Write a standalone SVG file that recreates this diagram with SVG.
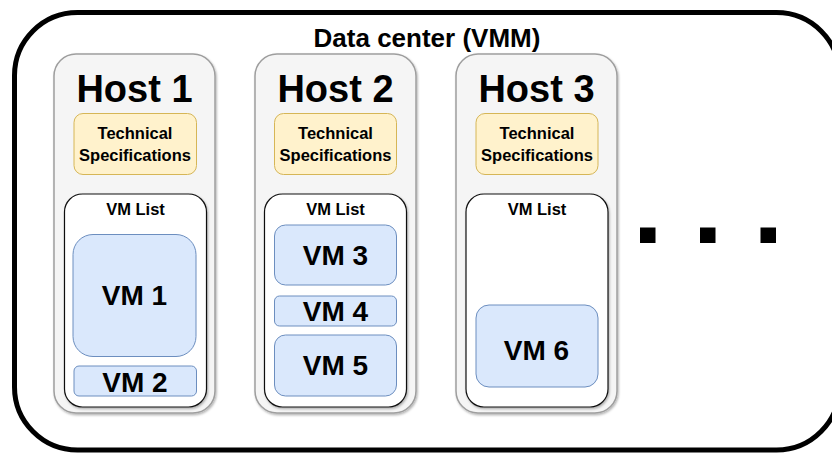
<svg xmlns="http://www.w3.org/2000/svg" width="832" height="454" viewBox="0 0 832 454">
  <defs>
    <filter id="soft" x="-10%" y="-10%" width="120%" height="120%">
      <feDropShadow dx="1" dy="1.5" stdDeviation="0.8" flood-color="#000" flood-opacity="0.3"/>
    </filter>
  </defs>
  <style>
    text { font-family: "Liberation Sans", Arial, sans-serif; font-weight: bold; fill: #000; text-anchor: middle; }
    .dc { fill: #fff; stroke: #000; stroke-width: 5; }
    .host { fill: #f5f5f5; stroke: #9e9e9e; stroke-width: 1.5; filter: url(#soft); }
    .spec { fill: #fff2cc; stroke: #d6b656; stroke-width: 1; }
    .list { fill: #fff; stroke: #111; stroke-width: 1.2; filter: url(#soft); }
    .vm { fill: #dae8fc; stroke: #6c8ebf; stroke-width: 1; }
    .title { font-size: 26px; }
    .hname { font-size: 38px; }
    .stext { font-size: 16.5px; }
    .ltext { font-size: 16.5px; }
    .vtext { font-size: 28px; }
  </style>

  <!-- data center frame -->
  <g id="datacenter">
    <rect class="dc" x="14.5" y="12.5" width="825" height="437.5" rx="63"/>
    <text class="title" x="427" y="46.5">Data center (VMM)</text>
  </g>

  <!-- host 1 -->
  <g id="host1">
    <rect class="host" x="54" y="54" width="161" height="359" rx="22"/>
    <text class="hname" x="134.5" y="101.5">Host 1</text>
    <rect class="spec" x="74" y="113.5" width="122.5" height="61" rx="9"/>
    <text class="stext" x="135" y="139">Technical</text>
    <text class="stext" x="135" y="160.5">Specifications</text>
    <rect class="list" x="64.5" y="194" width="142" height="213" rx="18"/>
    <text class="ltext" x="135.5" y="214.5">VM List</text>
  </g>
  <g id="vm1">
    <rect class="vm" x="73" y="234.5" width="123" height="122" rx="20"/>
    <text class="vtext" x="134.5" y="305">VM 1</text>
  </g>
  <g id="vm2">
    <rect class="vm" x="74" y="366" width="122.5" height="30" rx="5"/>
    <text class="vtext" x="135" y="391.5">VM 2</text>
  </g>

  <!-- host 2 -->
  <g id="host2">
    <rect class="host" x="255" y="54" width="161" height="359" rx="22"/>
    <text class="hname" x="335.5" y="101.5">Host 2</text>
    <rect class="spec" x="274.5" y="113.5" width="122" height="61" rx="9"/>
    <text class="stext" x="335.5" y="139">Technical</text>
    <text class="stext" x="335.5" y="160.5">Specifications</text>
    <rect class="list" x="264.5" y="194" width="142" height="213" rx="18"/>
    <text class="ltext" x="335.5" y="214.5">VM List</text>
  </g>
  <g id="vm3">
    <rect class="vm" x="274.5" y="225" width="122" height="60" rx="11"/>
    <text class="vtext" x="335.5" y="265">VM 3</text>
  </g>
  <g id="vm4">
    <rect class="vm" x="274.5" y="296" width="122" height="30" rx="5"/>
    <text class="vtext" x="335.5" y="320.5">VM 4</text>
  </g>
  <g id="vm5">
    <rect class="vm" x="274.5" y="335" width="122" height="61" rx="11"/>
    <text class="vtext" x="335.5" y="375">VM 5</text>
  </g>

  <!-- host 3 -->
  <g id="host3">
    <rect class="host" x="456" y="54" width="161" height="359" rx="22"/>
    <text class="hname" x="536.5" y="101.5">Host 3</text>
    <rect class="spec" x="476" y="113.5" width="122" height="61" rx="9"/>
    <text class="stext" x="537" y="139">Technical</text>
    <text class="stext" x="537" y="160.5">Specifications</text>
    <rect class="list" x="466" y="194" width="142" height="213" rx="18"/>
    <text class="ltext" x="537" y="214.5">VM List</text>
  </g>
  <g id="vm6">
    <rect class="vm" x="476" y="305" width="122" height="82" rx="13"/>
    <text class="vtext" x="536.5" y="359.5">VM 6</text>
  </g>

  <!-- ellipsis: further hosts -->
  <g id="more">
    <rect x="640" y="227.5" width="15.5" height="15.5" fill="#000"/>
    <rect x="700" y="227.5" width="15.5" height="15.5" fill="#000"/>
    <rect x="760.5" y="227.5" width="15.5" height="15.5" fill="#000"/>
  </g>

  <!-- no connectors in this diagram -->
  <g id="connectors"/>
</svg>
